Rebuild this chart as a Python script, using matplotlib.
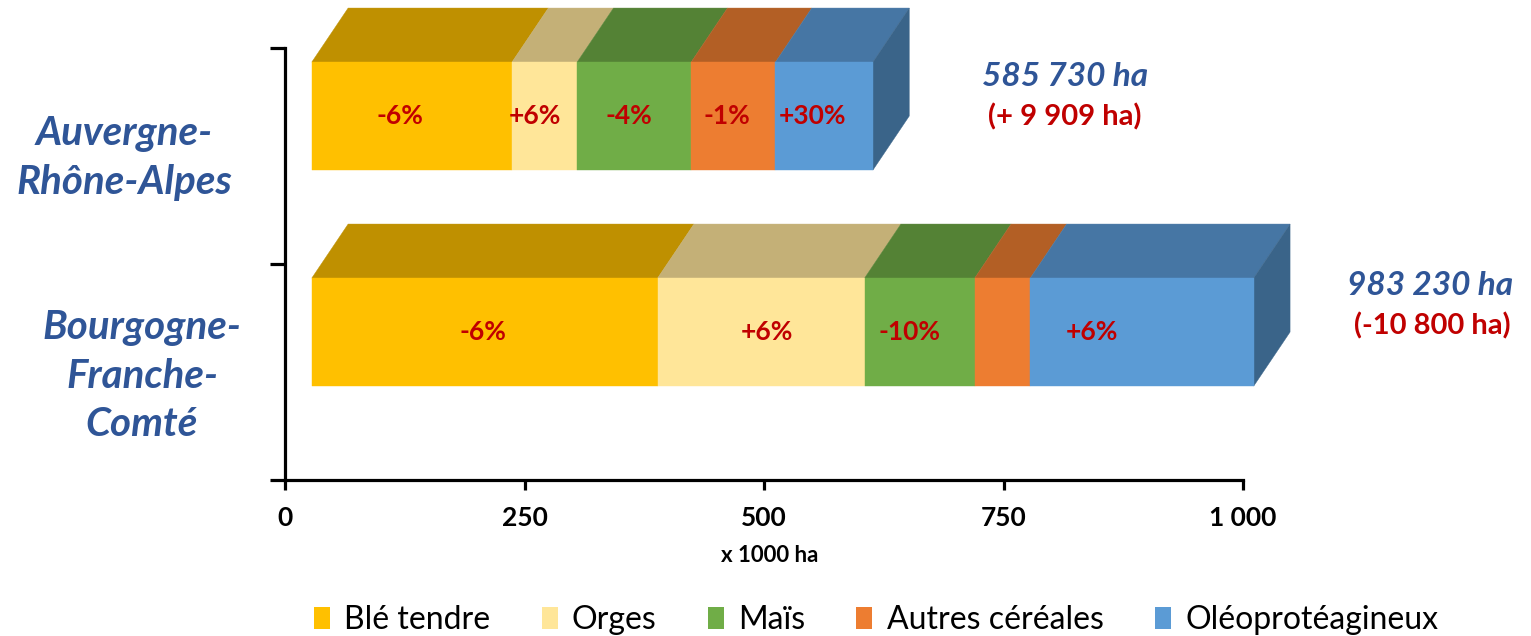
import matplotlib
matplotlib.use("Agg")
import matplotlib.pyplot as plt
from matplotlib.patches import Polygon, Patch

plt.rcParams['font.family'] = ['Lato', 'DejaVu Sans']

# --- données (milliers d'ha) ---
regions = ['Bourgogne-\nFranche-\nComté', 'Auvergne-\nRhône-Alpes']
cultures = ['Blé tendre', 'Orges', 'Maïs', 'Autres céréales', 'Oléoprotéagineux']
surfaces = [
    [361, 216, 115, 58, 233.23],   # Bourgogne-Franche-Comté
    [209, 68, 119, 88, 101.73],    # Auvergne-Rhône-Alpes
]
evolutions = [
    ['-6%', '+6%', '-10%', '', '+6%'],
    ['-6%', '+6%', '-4%', '-1%', '+30%'],
]
totaux = ['983 230 ha', '585 730 ha']
ecarts = ['(-10 800 ha)', '(+ 9 909 ha)']
xticks = [0, 250, 500, 750, 1000]
xticklabels = ['0', '250', '500', '750', '1 000']

# couleurs face avant / dessus
c_front = ['#FFC000', '#FFE699', '#70AD47', '#ED7D31', '#5B9BD5']
c_top = ['#BF9000', '#C4B077', '#548235', '#B35F25', '#4676A4']
c_side = '#3A6489'
BLEU = '#2F5597'
ROUGE = '#C00000'

W, H = 1531, 636
fig = plt.figure(figsize=(W / 100, H / 100), dpi=100)


def px(x, y):
    return x / W, 1 - y / H


ax = fig.add_axes([285 / W, 1 - 480 / H, (1243 - 285) / W, (480 - 48) / H])
ax.set_xlim(0, 1000)
ax.set_ylim(-0.5, 1.5)

# effet 3D
x0 = 28          # décalage de la face avant
dx, dy = 37.9, 0.25
h = 0.5
off = 0.185
# décalage des étiquettes par rapport au centre des segments
label_dx = [[-2, 6, -11, 0, -52], [-13, -10, -6, -7, -12]]

for i, vals in enumerate(surfaces):
    yb = i + off - h / 2
    yt = i + off + h / 2
    start = x0
    for j, v in enumerate(vals):
        xs, xe = start, start + v
        top = Polygon([(xs, yt), (xe, yt), (xe + dx, yt + dy), (xs + dx, yt + dy)],
                      closed=True, fc=c_top[j], ec=c_top[j], lw=0.3, clip_on=False, zorder=2)
        front = Polygon([(xs, yb), (xe, yb), (xe, yt), (xs, yt)],
                        closed=True, fc=c_front[j], ec=c_front[j], lw=0.3, clip_on=False, zorder=3)
        ax.add_patch(top)
        ax.add_patch(front)
        if evolutions[i][j]:
            ax.text((xs + xe) / 2 + label_dx[i][j], i + off, evolutions[i][j],
                    ha='center', va='center', color=ROUGE, fontsize=19,
                    fontweight='bold', zorder=5)
        start = xe
    side = Polygon([(start, yb), (start, yt), (start + dx, yt + dy), (start + dx, yb + dy)],
                   closed=True, fc=c_side, ec=c_side, lw=0.3, clip_on=False, zorder=2)
    ax.add_patch(side)

# axes
for s in ['top', 'right']:
    ax.spines[s].set_visible(False)
for s in ['left', 'bottom']:
    ax.spines[s].set_linewidth(2.3)
ax.set_yticks([-0.5, 0.5, 1.5])
ax.set_yticklabels([])
ax.tick_params(axis='y', length=11, width=2.3, direction='out')
ax.set_xticks(xticks)
ax.set_xticklabels(xticklabels, fontsize=19, fontweight='bold')
ax.tick_params(axis='x', length=7, width=2.3, direction='out', pad=12)

fig.text(*px(770, 556), 'x 1000 ha', ha='center', va='center',
         fontsize=16, fontweight='bold')

# noms des régions
fig.text(*px(124, 158), regions[1], ha='center', va='center', color=BLEU,
         fontsize=29, fontweight='bold', fontstyle='italic', linespacing=1.4)
fig.text(*px(142, 376), regions[0], ha='center', va='center', color=BLEU,
         fontsize=29, fontweight='bold', fontstyle='italic', linespacing=1.4)

# totaux
fig.text(*px(1065, 77), totaux[1], ha='center', va='center', color=BLEU,
         fontsize=24, fontweight='bold', fontstyle='italic')
fig.text(*px(1065, 117), ecarts[1], ha='center', va='center', color=ROUGE,
         fontsize=21, fontweight='bold')
fig.text(*px(1430, 285), totaux[0], ha='center', va='center', color=BLEU,
         fontsize=24, fontweight='bold', fontstyle='italic')
fig.text(*px(1432, 326), ecarts[0], ha='center', va='center', color=ROUGE,
         fontsize=21, fontweight='bold')

# légende
handles = [Patch(fc=c, ec='none') for c in c_front]
fig.legend(handles, cultures, loc='center', bbox_to_anchor=px(876, 620), ncol=5,
           frameon=False, fontsize=23, handlelength=0.5, handleheight=0.7,
           handletextpad=0.45, columnspacing=1.6, borderpad=0, borderaxespad=0)

fig.savefig('out.png', dpi=100)
